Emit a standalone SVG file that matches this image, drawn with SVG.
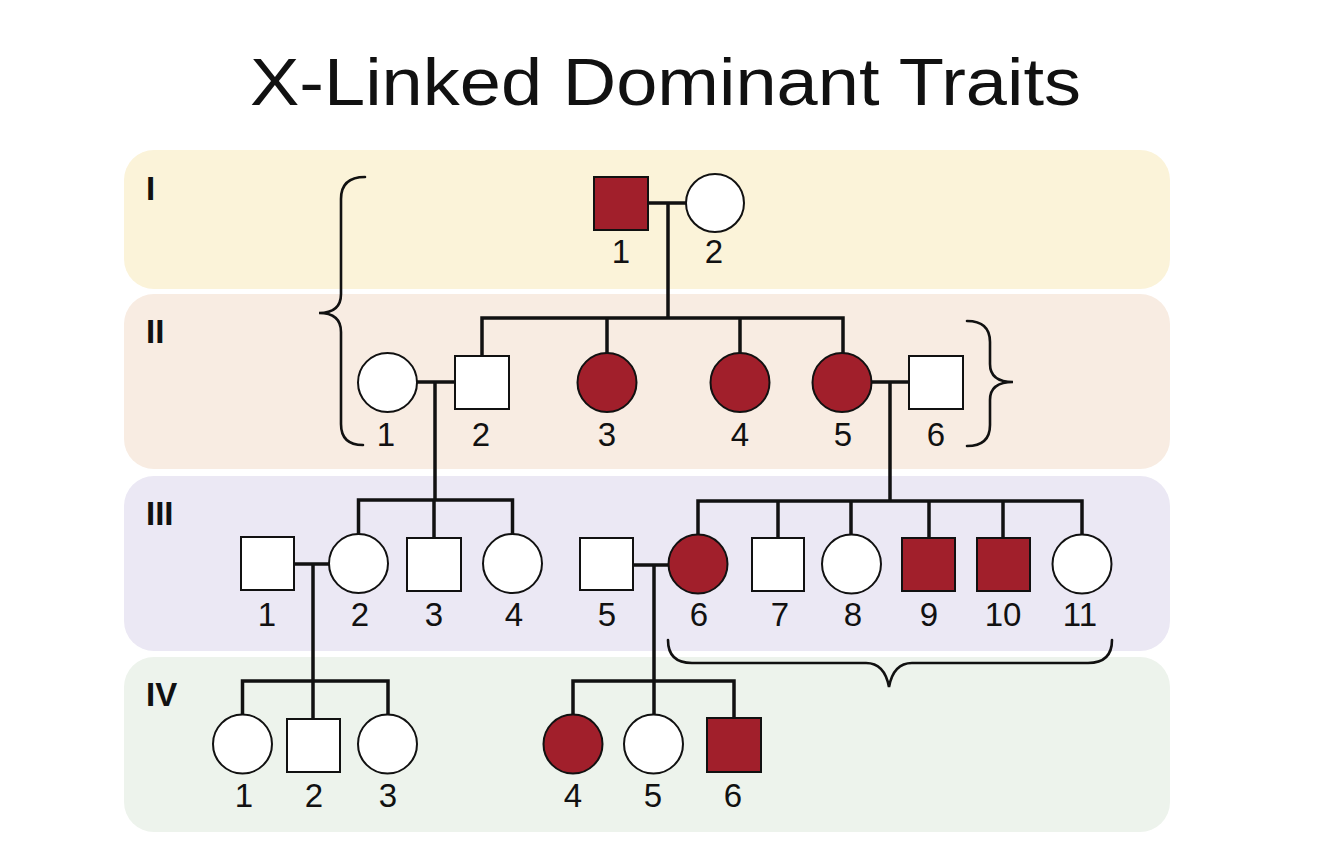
<svg xmlns="http://www.w3.org/2000/svg" width="1334" height="850" viewBox="0 0 1334 850">
<style>
.band{stroke:none}
.gen{font-family:"Liberation Sans",Arial,sans-serif;font-weight:bold;font-size:33px;fill:#111}
.lbl{font-family:"Liberation Sans",Arial,sans-serif;font-size:33px;fill:#111;text-anchor:middle}
.title{font-family:"Liberation Sans",Arial,sans-serif;font-size:66px;fill:#111}
.u{fill:#fff;stroke:#111;stroke-width:2}
.a{fill:#a11f2b;stroke:#111;stroke-width:2}
.ln{fill:none;stroke:#111;stroke-width:3.5;stroke-linecap:square}
.br{fill:none;stroke:#111;stroke-width:2.6;stroke-linecap:round}
</style>
<rect width="1334" height="850" fill="#fff"/>
<text class="title" x="250" y="105" textLength="831" lengthAdjust="spacingAndGlyphs">X-Linked Dominant Traits</text>
<g id="bands">
<rect class="band" x="124" y="150" width="1046" height="139" rx="30" fill="#fbf3d9"/>
<rect class="band" x="124" y="294" width="1046" height="175" rx="30" fill="#f8ece2"/>
<rect class="band" x="124" y="476" width="1046" height="175" rx="30" fill="#ebe8f4"/>
<rect class="band" x="124" y="657" width="1046" height="175" rx="30" fill="#edf3ec"/>
</g>
<g id="generation-labels">
<text class="gen" x="146" y="200">I</text>
<text class="gen" x="146" y="343">II</text>
<text class="gen" x="146" y="525">III</text>
<text class="gen" x="146" y="706">IV</text>
</g>
<g id="connectors">
<path class="ln" d="M648,203 H686 M668,203 V318 M482,318 H843 M482,318 V356 M607,318 V353 M740,318 V353 M843,318 V353"/>
<path class="ln" d="M417,382 H455 M435,382 V500 M358.5,500 H512.5 M358.5,500 V534 M434,500 V538 M512.5,500 V534"/>
<path class="ln" d="M872,382 H909 M890,382 V501 M698,501 H1082 M698,501 V535 M778,501 V538 M851,501 V535 M929,501 V538 M1003,501 V538 M1082,501 V535"/>
<path class="ln" d="M294,564 H329 M313,564 V681 M242.5,681 H388 M242.5,681 V715 M313,681 V719 M388,681 V715"/>
<path class="ln" d="M633,565 H669 M654,565 V681 M573,681 H734 M573,681 V715 M654,681 V715 M734,681 V718"/>
</g>
<g id="braces">
<path class="br" d="M365,177 C349,177 341,184 341,199 L341,294 C341,306 334,313 319,313 C334,313 341,320 341,332 L341,424 C341,439 349,445 363,445"/>
<path class="br" d="M967,321 C982,321 990,328 990,342 L990,364 C990,376 998,382 1013,382 C998,382 990,388 990,400 L990,425 C990,439 982,446 967,446"/>
<path class="br" d="M668,640 C668,655 676,663 692,663 L866,663 C879,663 886,671 889,687 C892,671 899,663 912,663 L1088,663 C1104,663 1112,655 1112,640"/>
</g>
<g id="I-1"><rect class="a" x="594" y="177" width="54" height="53"/><text class="lbl" x="621" y="263">1</text></g>
<g id="I-2"><circle class="u" cx="715" cy="203" r="29"/><text class="lbl" x="714" y="263">2</text></g>
<g id="II-1"><circle class="u" cx="387.5" cy="382.5" r="29.5"/><text class="lbl" x="386" y="446">1</text></g>
<g id="II-2"><rect class="u" x="455" y="356" width="54" height="53"/><text class="lbl" x="481" y="446">2</text></g>
<g id="II-3"><circle class="a" cx="607" cy="382.5" r="29.5"/><text class="lbl" x="607" y="446">3</text></g>
<g id="II-4"><circle class="a" cx="740" cy="382.5" r="29.5"/><text class="lbl" x="740" y="446">4</text></g>
<g id="II-5"><circle class="a" cx="842" cy="382.5" r="29.5"/><text class="lbl" x="843" y="446">5</text></g>
<g id="II-6"><rect class="u" x="909" y="356" width="54" height="53"/><text class="lbl" x="936" y="446">6</text></g>
<g id="III-1"><rect class="u" x="241" y="537" width="53" height="53"/><text class="lbl" x="267" y="626">1</text></g>
<g id="III-2"><circle class="u" cx="358.5" cy="563.5" r="29.5"/><text class="lbl" x="360" y="626">2</text></g>
<g id="III-3"><rect class="u" x="407" y="538" width="54" height="53"/><text class="lbl" x="434" y="626">3</text></g>
<g id="III-4"><circle class="u" cx="512.5" cy="563.5" r="29.5"/><text class="lbl" x="514" y="626">4</text></g>
<g id="III-5"><rect class="u" x="580" y="538" width="53" height="52"/><text class="lbl" x="607" y="626">5</text></g>
<g id="III-6"><circle class="a" cx="698" cy="564" r="29.5"/><text class="lbl" x="699" y="626">6</text></g>
<g id="III-7"><rect class="u" x="752" y="538" width="52" height="53"/><text class="lbl" x="780" y="626">7</text></g>
<g id="III-8"><circle class="u" cx="851.5" cy="564" r="29.5"/><text class="lbl" x="853" y="626">8</text></g>
<g id="III-9"><rect class="a" x="902" y="538" width="53" height="53"/><text class="lbl" x="929" y="626">9</text></g>
<g id="III-10"><rect class="a" x="977" y="538" width="53" height="53"/><text class="lbl" x="1003" y="626">10</text></g>
<g id="III-11"><circle class="u" cx="1082" cy="564" r="29.5"/><text class="lbl" x="1080" y="626">11</text></g>
<g id="IV-1"><circle class="u" cx="242.5" cy="744" r="29.5"/><text class="lbl" x="244" y="807">1</text></g>
<g id="IV-2"><rect class="u" x="287" y="719" width="53" height="53"/><text class="lbl" x="314" y="807">2</text></g>
<g id="IV-3"><circle class="u" cx="387.5" cy="744" r="29.5"/><text class="lbl" x="388" y="807">3</text></g>
<g id="IV-4"><circle class="a" cx="573" cy="744" r="29.5"/><text class="lbl" x="573" y="807">4</text></g>
<g id="IV-5"><circle class="u" cx="653.5" cy="744" r="29.5"/><text class="lbl" x="653" y="807">5</text></g>
<g id="IV-6"><rect class="a" x="707" y="718" width="54" height="54"/><text class="lbl" x="733" y="807">6</text></g>
</svg>
